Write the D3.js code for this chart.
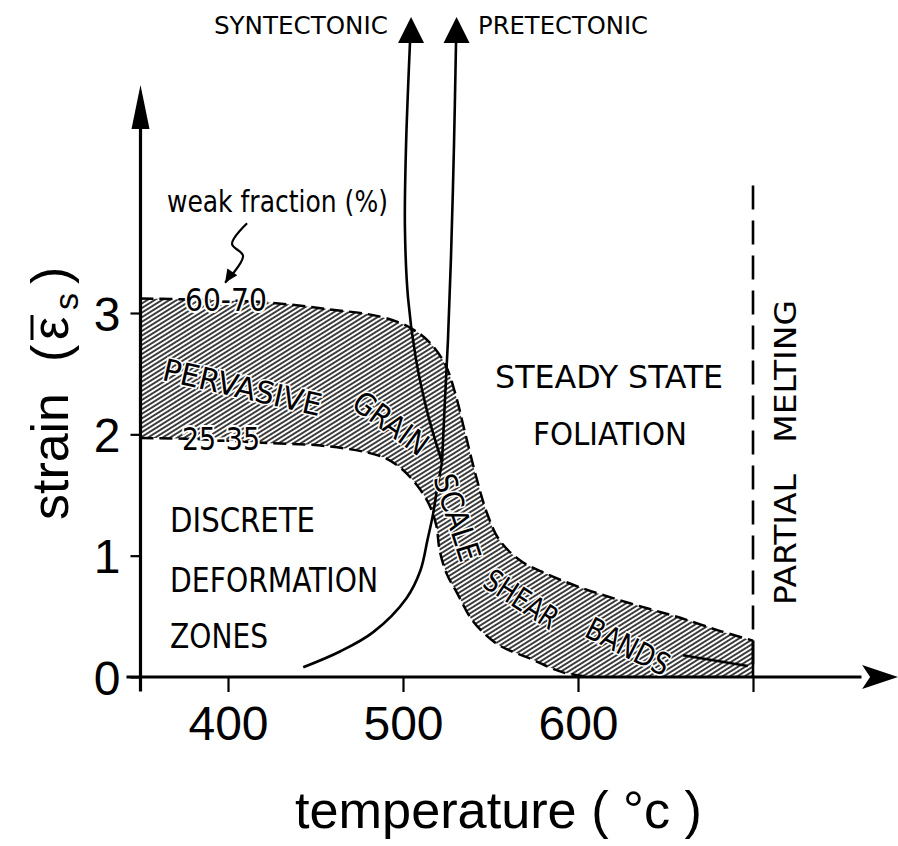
<!DOCTYPE html>
<html><head><meta charset="utf-8">
<script src="https://cdn.jsdelivr.net/npm/d3@7"></script>
<style>
html,body{margin:0;padding:0;background:#fff;}
svg{display:block;}
</style></head><body>
<svg id="chart" width="898" height="846"></svg>
<script>
// ---------------- data ----------------
const xTickValues = [400, 500, 600, 700];
const xTickLabels = ["400", "500", "600", ""];
const yTickValues = [0, 1, 2, 3];
const yTickLabels = ["0", "1", "2", "3"];

// upper boundary of the shear-band field (weak fraction 60-70 %)
const upperTemp   = [350, 384, 420, 458, 487, 504, 515, 524, 530, 535, 542, 548, 555, 567, 582, 601, 620, 641, 658, 681, 700];
const upperStrain = [3.12, 3.11, 3.09, 3.03, 2.97, 2.88, 2.76, 2.58, 2.33, 2.04, 1.64, 1.35, 1.13, 0.96, 0.85, 0.74, 0.65, 0.56, 0.49, 0.38, 0.30];
// lower boundary (weak fraction 25-35 %)
const lowerTemp   = [350, 384, 420, 458, 487, 498, 508, 515, 519, 521, 525, 531, 540, 554, 573, 591, 607];
const lowerStrain = [1.97, 1.96, 1.93, 1.90, 1.82, 1.73, 1.58, 1.42, 1.25, 1.04, 0.85, 0.69, 0.46, 0.27, 0.15, 0.04, 0.0];

// deformation paths
const discreteTemp   = [443, 464, 483, 502, 510, 514, 517, 519.4, 522.3];
const discreteStrain = [0.08, 0.21, 0.37, 0.65, 0.88, 1.13, 1.33, 1.54, 1.77];
const synTemp   = [522.3, 514.3, 507.4, 502.9, 501.1, 501.7, 504.0];
const synStrain = [1.77, 2.16, 2.62, 3.12, 3.70, 4.36, 5.23];
const preTemp   = [522.3, 524.0, 525.7, 527.4, 529.1, 530.3];
const preStrain = [1.77, 2.29, 2.78, 3.45, 4.36, 5.23];
const synTip = [504.6, 5.44];
const preTip = [530.6, 5.44];

const meltingTemp = 700;
const meltingTop = 4.05;
const bandsLeaderTemp = [660, 697];
const bandsLeaderStrain = [0.18, 0.09];
const squiggleTemp = [410.9, 402.3, 408.6, 398.3];
const squiggleStrain = [3.74, 3.57, 3.47, 3.25];

// labels (anchor in data units)
const labelText  = ["SYNTECTONIC", "PRETECTONIC", "weak fraction (%)", "60-70", "25-35", "STEADY STATE", "FOLIATION", "DISCRETE", "DEFORMATION", "ZONES"];
const labelTemp  = [491.4, 542.9, 365.1, 375.4, 373.7, 552.6, 574.3, 366.9, 366.9, 366.9];
const labelStrain= [5.30, 5.30, 3.83, 3.02, 1.87, 2.38, 1.91, 1.195, 0.70, 0.24];
const bandWords  = ["PERVASIVE", "GRAIN", "SCALE", "SHEAR", "BANDS"];
const bandTemp   = [361.7, 469.7, 517.1, 544.6, 602.9];
const bandStrain = [2.45, 2.225, 1.64, 0.75, 0.34];

// ---------------- drawing ----------------
const svg = d3.select("#chart");
const x = d3.scaleLinear().domain([400, 700]).range([228, 753]);
const y = d3.scaleLinear().domain([0, 3]).range([677, 313]);
const X0 = x(350);
const narrow = "'Liberation Sans Narrow','DejaVu Sans Condensed','Liberation Sans',sans-serif";
const sans = "'Liberation Sans',Arial,Helvetica,sans-serif";

const defs = svg.append("defs");
const pat = defs.append("pattern").attr("id", "hatch")
  .attr("patternUnits", "userSpaceOnUse").attr("width", 10).attr("height", 3.9)
  .attr("patternTransform", "rotate(-32)");
pat.append("line").attr("x1", 0).attr("x2", 10).attr("y1", 1).attr("y2", 1)
  .attr("stroke", "#000").attr("stroke-width", 1.5);

const zip = (a, b) => a.map((v, i) => [v, b[i]]);
const line = d3.line().x(d => x(d[0])).y(d => y(d[1])).curve(d3.curveCatmullRom.alpha(0.5));

const upper = zip(upperTemp, upperStrain);
const lower = zip(lowerTemp, lowerStrain);

// band fill
const upperD = line(upper);
const lowerRevD = line(lower.slice().reverse());
const fillD = upperD + "L" + x(700) + "," + y(0) + "L" + lowerRevD.slice(1) + "Z";
svg.append("path").attr("d", fillD).attr("fill", "url(#hatch)").attr("stroke", "none");

// dashed edges
svg.append("path").attr("d", upperD).attr("fill", "none").attr("stroke", "#000")
  .attr("stroke-width", 2.5).attr("stroke-dasharray", "13,6");
svg.append("path").attr("d", line(lower)).attr("fill", "none").attr("stroke", "#000")
  .attr("stroke-width", 2.5).attr("stroke-dasharray", "13,6");

// partial melting dashed line
svg.append("line").attr("x1", x(meltingTemp)).attr("x2", x(meltingTemp))
  .attr("y1", y(meltingTop)).attr("y2", y(0))
  .attr("stroke", "#000").attr("stroke-width", 2.6).attr("stroke-dasharray", "24,11");
svg.append("line").attr("x1", x(meltingTemp)).attr("x2", x(meltingTemp))
  .attr("y1", y(upperStrain[upperStrain.length - 1])).attr("y2", y(0))
  .attr("stroke", "#000").attr("stroke-width", 2.6);

// paths
const pathStyle = sel => sel.attr("fill", "none").attr("stroke", "#000").attr("stroke-width", 2.6);
svg.append("path").attr("d", line(zip(discreteTemp, discreteStrain))).call(pathStyle);
svg.append("path").attr("d", line(zip(synTemp, synStrain))).call(pathStyle);
svg.append("path").attr("d", line(zip(preTemp, preStrain))).call(pathStyle);
function arrowUp(tip, len, hw) {
  const tx = x(tip[0]), ty = y(tip[1]);
  svg.append("path").attr("d", `M${tx},${ty}L${tx + hw},${ty + len}L${tx - hw},${ty + len}Z`).attr("fill", "#000");
}
arrowUp(synTip, 26, 13);
arrowUp(preTip, 26, 13);

// BANDS leader
svg.append("path").attr("d", d3.line().x(d => x(d[0])).y(d => y(d[1]))(zip(bandsLeaderTemp, bandsLeaderStrain))).call(pathStyle);

// squiggle arrow
const sq = zip(squiggleTemp, squiggleStrain);
svg.append("path").attr("d", line(sq)).attr("fill", "none").attr("stroke", "#000").attr("stroke-width", 2.2);
{
  const a = sq[sq.length - 2], b = sq[sq.length - 1];
  const ax = x(a[0]), ay = y(a[1]), bx = x(b[0]), by = y(b[1]);
  const ang = Math.atan2(by - ay, bx - ax);
  const L = 13, W = 6;
  const px = bx - L * Math.cos(ang), py = by - L * Math.sin(ang);
  svg.append("path").attr("d", `M${bx},${by}L${px + W * Math.sin(ang)},${py - W * Math.cos(ang)}L${px - W * Math.sin(ang)},${py + W * Math.cos(ang)}Z`).attr("fill", "#000");
}

// axes
const xAxis = d3.axisBottom(x).tickValues(xTickValues).tickSize(15)
  .tickFormat((d, i) => xTickLabels[i]).tickPadding(14);
const gx = svg.append("g").attr("transform", `translate(0,${y(0)})`).call(xAxis);
gx.select(".domain").remove();
gx.selectAll(".tick line").attr("stroke", "#000").attr("stroke-width", 2.2);
gx.selectAll(".tick text").attr("font-family", sans).attr("font-size", 48).attr("fill", "#000")
  .attr("dy", "0.71em");

const yAxis = d3.axisLeft(y).tickValues(yTickValues).tickSize(10)
  .tickFormat((d, i) => yTickLabels[i]).tickPadding(10);
const gy = svg.append("g").attr("transform", `translate(${X0},0)`).call(yAxis);
gy.select(".domain").remove();
gy.selectAll(".tick line").attr("stroke", "#000").attr("stroke-width", 2.2);
gy.selectAll(".tick text").attr("font-family", sans).attr("font-size", 48).attr("fill", "#000")
  .attr("dy", "0.36em");

// axis lines with arrows
svg.append("line").attr("x1", x(342)).attr("x2", x(762)).attr("y1", y(0)).attr("y2", y(0))
  .attr("stroke", "#000").attr("stroke-width", 3.2);
{
  const tx = x(782.9), ty = y(0);
  svg.append("path").attr("d", `M${tx},${ty}L${tx - 36},${ty - 12}L${tx - 28},${ty}L${tx - 36},${ty + 12}Z`).attr("fill", "#000");
}
svg.append("line").attr("x1", X0).attr("x2", X0).attr("y1", y(-0.12)).attr("y2", y(4.6))
  .attr("stroke", "#000").attr("stroke-width", 3.2);
{
  const tx = X0, ty = y(4.88);
  svg.append("path").attr("d", `M${tx},${ty}L${tx + 9},${ty + 44}L${tx - 9},${ty + 44}Z`).attr("fill", "#000");
}

// labels
const labelSize = [25, 25, 30, 32, 32, 32, 32, 33, 33, 33];
const labelLen  = [174, 170, 221, 82, 78, 228, 154, 145, 208, 98];
const labelAnchor = ["end", "start", "start", "start", "start", "start", "start", "start", "start", "start"];
labelText.forEach((t, i) => {
  const el = svg.append("text").attr("x", x(labelTemp[i])).attr("y", y(labelStrain[i]))
    .attr("font-family", narrow).attr("font-size", labelSize[i]).attr("fill", "#000")
    .attr("text-anchor", labelAnchor[i])
    .attr("textLength", labelLen[i]).attr("lengthAdjust", "spacingAndGlyphs")
    .text(t);
  if (i === 3 || i === 4) el.attr("stroke", "#fff").attr("stroke-width", 4).attr("paint-order", "stroke");
});

// band words
const bandAngle = [13, 36, 72, 33, 27];
const bandLen = [162, 85, 90, 82, 90];
bandWords.forEach((t, i) => {
  const px = x(bandTemp[i]), py = y(bandStrain[i]);
  svg.append("text").attr("transform", `translate(${px},${py}) rotate(${bandAngle[i]})`)
    .attr("font-family", narrow).attr("font-size", 31).attr("fill", "#000")
    .attr("stroke", "#fff").attr("stroke-width", 3).attr("paint-order", "stroke")
    .attr("textLength", bandLen[i]).attr("lengthAdjust", "spacingAndGlyphs")
    .text(t);
});

// PARTIAL MELTING
svg.append("text").attr("transform", `translate(${x(724.6)},${y(0.593)}) rotate(-90)`)
  .attr("font-family", narrow).attr("font-size", 31).attr("fill", "#000")
  .attr("textLength", 305).attr("lengthAdjust", "spacingAndGlyphs")
  .style("white-space", "pre")
  .text("PARTIAL   MELTING");

// x-axis title
svg.append("text").attr("x", 295).attr("y", 828)
  .attr("font-family", sans).attr("font-size", 52).attr("fill", "#000")
  .attr("textLength", 407).attr("lengthAdjust", "spacingAndGlyphs")
  .style("white-space", "pre")
  .text("temperature ( °c )");

// y-axis title
const yt = svg.append("g").attr("transform", "translate(68,520) rotate(-90)");
yt.append("text").attr("x", 0).attr("y", 0).attr("font-family", sans).attr("font-size", 52)
  .attr("textLength", 127).attr("lengthAdjust", "spacingAndGlyphs").text("strain");
yt.append("text").attr("x", 158).attr("y", 0).attr("font-family", sans).attr("font-size", 52).text("(");
yt.append("text").attr("x", 180).attr("y", 0).attr("font-family", sans).attr("font-size", 52).text("ε");
yt.append("line").attr("x1", 180).attr("x2", 205).attr("y1", -36).attr("y2", -36)
  .attr("stroke", "#000").attr("stroke-width", 3);
yt.append("text").attr("x", 210).attr("y", 10).attr("font-family", sans).attr("font-size", 34).text("s");
yt.append("text").attr("x", 236).attr("y", 0).attr("font-family", sans).attr("font-size", 52).text(")");
</script>
</body></html>
